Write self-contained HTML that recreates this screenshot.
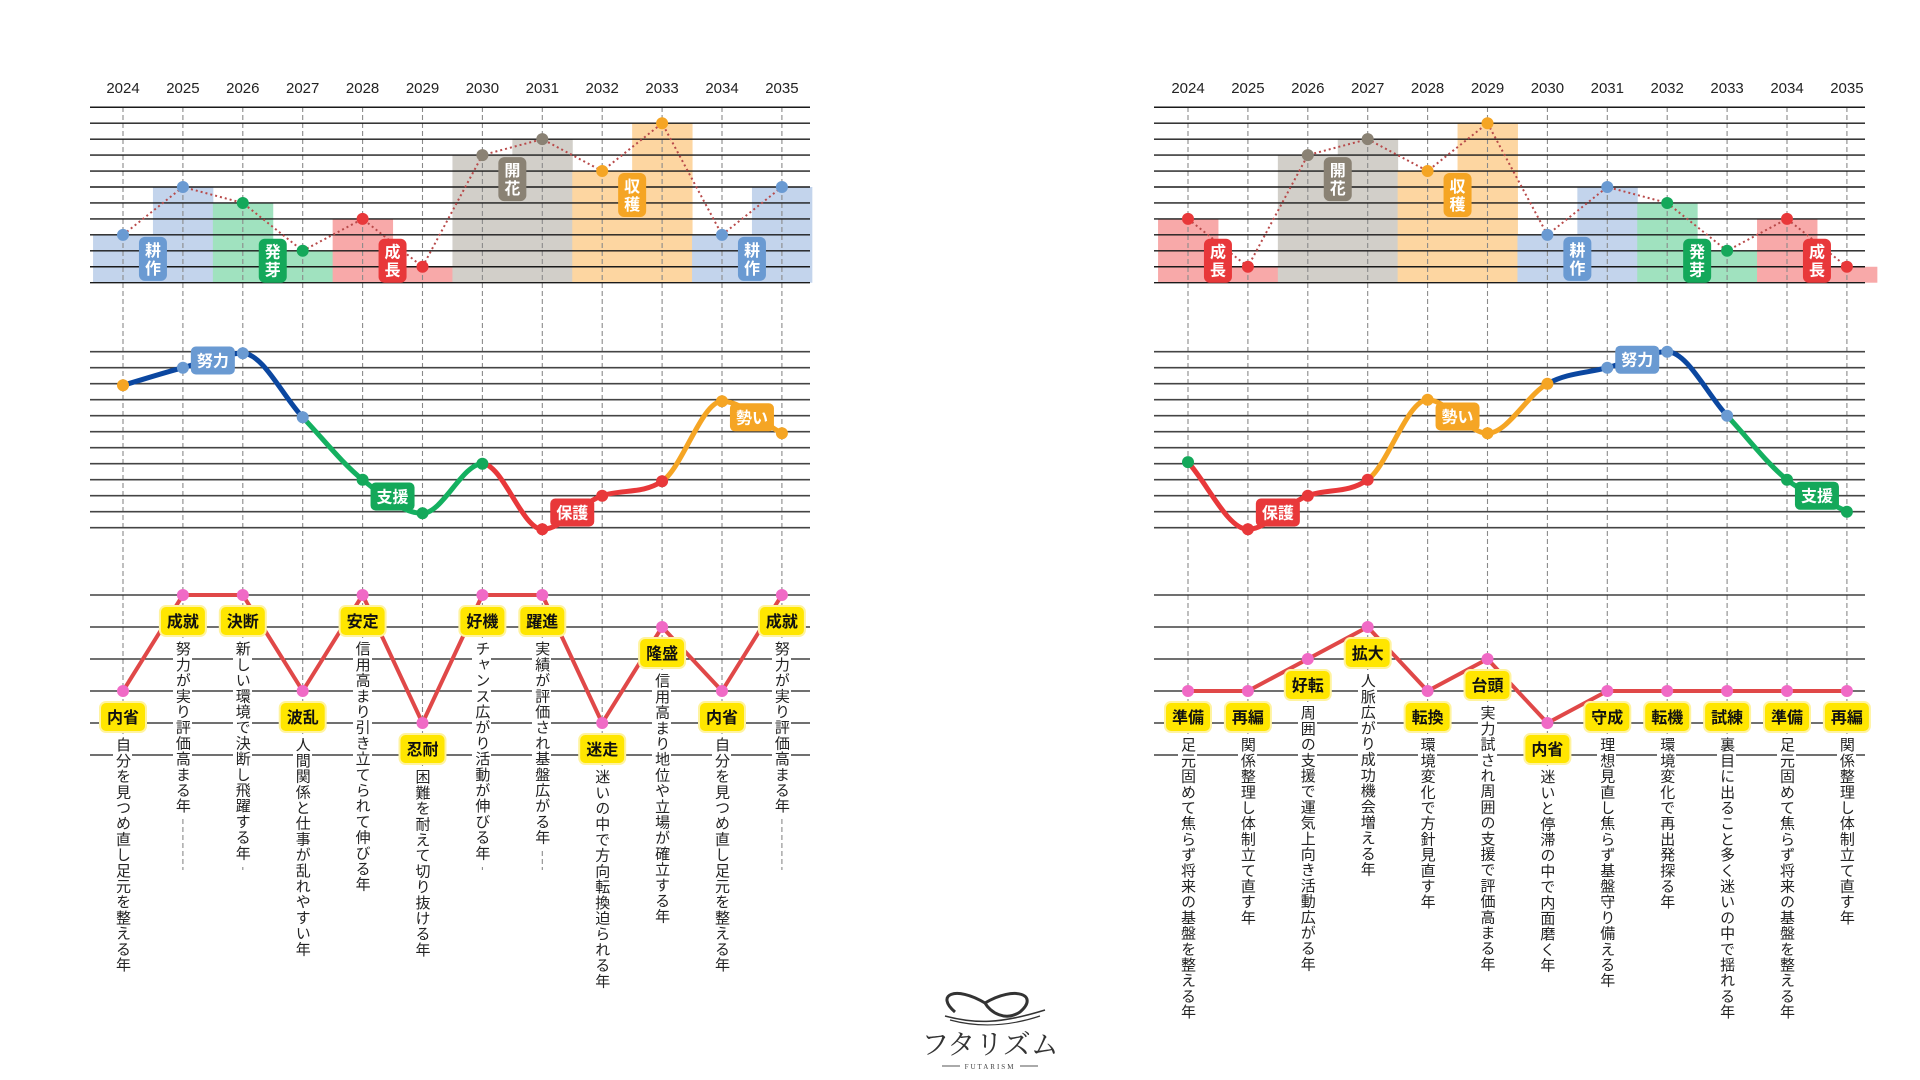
<!DOCTYPE html>
<html lang="ja">
<head>
<meta charset="utf-8">
<style>
  html,body{margin:0;padding:0;background:#fff;}
  #stage{position:relative;width:1920px;height:1080px;overflow:hidden;background:#fff;font-family:"Liberation Sans","Noto Sans CJK JP",sans-serif;}
  svg{position:absolute;left:0;top:0;}
  .vtext{position:absolute;writing-mode:vertical-rl;font-size:15px;line-height:17px;letter-spacing:0.7px;background:#fff;color:#222;padding:3px 1px;font-family:"Liberation Sans","Noto Sans CJK JP",sans-serif;}
</style>
</head>
<body>
<div id="stage">
<svg id="chart" width="1920" height="1080" viewBox="0 0 1920 1080">
  <g id="logo">
    <path d="M955 1012 C 935 995, 955 985, 985 1003 C 1015 985, 1040 995, 1020 1012 C 1005 1022, 990 1012, 985 1003" fill="none" stroke="#333" stroke-width="3"/>
    <path d="M945 1016 C 975 1024, 1000 1024, 1045 1010" fill="none" stroke="#333" stroke-width="1.5"/>
    <path d="M950 1020 C 980 1028, 1010 1026, 1040 1016" fill="none" stroke="#333" stroke-width="1.2"/>
    <text x="990" y="1054" text-anchor="middle" font-size="28" fill="#333" font-family="'Noto Serif CJK SC','Liberation Serif',serif">フタリズム</text>
    <line x1="942" y1="1066" x2="960" y2="1066" stroke="#555" stroke-width="1"/>
    <line x1="1020" y1="1066" x2="1038" y2="1066" stroke="#555" stroke-width="1"/>
    <text x="990" y="1069" text-anchor="middle" font-size="7" letter-spacing="2" fill="#444" font-family="'Liberation Serif',serif">FUTARISM</text>
  </g>
</svg>
</div>
<script>
// ---------- data ----------
const years = ['2024','2025','2026','2027','2028','2029','2030','2031','2032','2033','2034','2035'];

const leftBarValues  = [3,6,5,2,4,1,8,9,7,10,3,6];
const leftBarPhases  = ['blue','blue','green','green','red','red','gray','gray','orange','orange','blue','blue'];
const rightBarValues = [4,1,8,9,7,10,3,6,5,2,4,1];
const rightBarPhases = ['red','red','gray','gray','orange','orange','blue','blue','green','green','red','red'];
const leftBarTags  = [['耕作',0],['発芽',2],['成長',4],['開花',6],['収穫',8],['耕作',10]];
const rightBarTags = [['成長',0],['開花',2],['収穫',4],['耕作',6],['発芽',8],['成長',10]];

const leftFlowValues  = [8.9,10,10.9,6.9,3,0.9,4,-0.1,2,2.9,7.9,5.9];
const leftFlowPhases  = ['orange','blue','blue','blue','green','green','green','red','red','red','orange','orange'];
const rightFlowValues = [4.1,-0.1,2,3,8,5.9,9,10,11,7,3,1];
const rightFlowPhases = ['green','red','red','red','orange','orange','orange','blue','blue','blue','green','green'];
const leftFlowLabels  = [['努力',1],['支援',4],['保護',7],['勢い',10]];
const rightFlowLabels = [['保護',1],['勢い',4],['努力',7],['支援',10]];

const leftFortune  = [2,5,5,2,5,1,5,5,1,4,2,5];
const rightFortune = [2,2,3,4,2,3,1,2,2,2,2,2];
const leftKeywords  = ['内省','成就','決断','波乱','安定','忍耐','好機','躍進','迷走','隆盛','内省','成就'];
const rightKeywords = ['準備','再編','好転','拡大','転換','台頭','内省','守成','転機','試練','準備','再編'];
const leftDescs = ['自分を見つめ直し足元を整える年','努力が実り評価高まる年','新しい環境で決断し飛躍する年','人間関係と仕事が乱れやすい年','信用高まり引き立てられて伸びる年','困難を耐えて切り抜ける年','チャンス広がり活動が伸びる年','実績が評価され基盤広がる年','迷いの中で方向転換迫られる年','信用高まり地位や立場が確立する年','自分を見つめ直し足元を整える年','努力が実り評価高まる年'];
const rightDescs = ['足元固めて焦らず将来の基盤を整える年','関係整理し体制立て直す年','周囲の支援で運気上向き活動広がる年','人脈広がり成功機会増える年','環境変化で方針見直す年','実力試され周囲の支援で評価高まる年','迷いと停滞の中で内面磨く年','理想見直し焦らず基盤守り備える年','環境変化で再出発探る年','裏目に出ること多く迷いの中で揺れる年','足元固めて焦らず将来の基盤を整える年','関係整理し体制立て直す年'];

// ---------- styling ----------
const barFill = {blue:'#c3d4ec',green:'#a0e2bf',red:'#f8a9a9',gray:'#d2cfc9',orange:'#fdd6a1'};
const tagFill = {blue:'#6a9ad2',green:'#14a85a',red:'#e8383a',gray:'#8a8274',orange:'#f5a524'};
const lineCol = {blue:'#0b47a0',green:'#14b060',red:'#e8383a',orange:'#f5a524'};
const dotCol  = {blue:'#6a9ad2',green:'#14a85a',red:'#e8383a',orange:'#f5a524'};

const NS = 'http://www.w3.org/2000/svg';
const svg = document.getElementById('chart');
const stage = document.getElementById('stage');
function mk(tag, attrs, parent){
  const e = document.createElementNS(NS, tag);
  for (const k in attrs) e.setAttribute(k, attrs[k]);
  (parent||svg).appendChild(e);
  return e;
}

// axes
const sides = {
  left:{x0:123, step:59.9, lx1:90, lx2:810},
  right:{x0:1188, step:59.9, lx1:1154, lx2:1865}
};
function colX(side,i){ return sides[side].x0 + sides[side].step*i; }
function topY(v){ return 282.7 - 15.95*v; }
function midY(v){ return 527.7 - 16*v; }
function botY(v){ return 755 - 32*v; }

function monoTangents(ys){
  const n=ys.length, d=[], m=new Array(n);
  for(let i=0;i<n-1;i++) d.push(ys[i+1]-ys[i]);
  m[0]=d[0]; m[n-1]=d[n-2];
  for(let i=1;i<n-1;i++){ m[i] = (d[i-1]*d[i]<=0) ? 0 : (d[i-1]+d[i])/2; }
  for(let i=0;i<n-1;i++){
    if(d[i]===0){m[i]=0;m[i+1]=0;continue;}
    const a=m[i]/d[i], b=m[i+1]/d[i], s=a*a+b*b;
    if(s>9){const t=3/Math.sqrt(s); m[i]=t*a*d[i]; m[i+1]=t*b*d[i];}
  }
  return m;
}

function drawSide(side, barValues, barPhases, barTags, flowValues, flowPhases, flowLabels, fortune, keywords, descs){
  const S = sides[side];
  const g = mk('g',{});
  
  

  years.forEach((y,i)=>{
    const t = mk('text',{x:colX(side,i), y:93, 'text-anchor':'middle', 'font-size':15, fill:'#222', 'font-family':"'Liberation Sans Narrow','Liberation Sans',sans-serif"}, g);
    t.textContent = y;
    
    
  });

  barValues.forEach((v,i)=>{
    const x = colX(side,i);
    const r = mk('rect',{x:x-S.step/2, y:topY(v), width:S.step+0.5, height:topY(0)-topY(v), fill:barFill[barPhases[i]]}, g);
    
    
  });

  years.forEach((y,i)=>{
    const l = mk('line',{x1:colX(side,i), y1:107, x2:colX(side,i), y2:870, stroke:'#8a8a8a', 'stroke-width':1.1, 'stroke-dasharray':'5 3'}, g);
    
    
  });

  for(let v=0; v<=11; v++){
    const l = mk('line',{x1:S.lx1, y1:topY(v), x2:S.lx2, y2:topY(v), stroke:'#1a1a1a', 'stroke-width':1.4}, g);
    
    
  }
  for(let v=0; v<=11; v++){
    const l = mk('line',{x1:S.lx1, y1:midY(v), x2:S.lx2, y2:midY(v), stroke:'#444', 'stroke-width':1.6}, g);
    
    
  }
  for(let v=0; v<=5; v++){
    const l = mk('line',{x1:S.lx1, y1:botY(v), x2:S.lx2, y2:botY(v), stroke:'#1a1a1a', 'stroke-width':1.3}, g);
    
    
  }

  const pts = barValues.map((v,i)=>colX(side,i)+','+topY(v)).join(' ');
  const pl = mk('polyline',{points:pts, fill:'none', stroke:'#b84a4a', 'stroke-width':2, 'stroke-dasharray':'2 3'}, g);
  
  
  barValues.forEach((v,i)=>{
    const c = mk('circle',{cx:colX(side,i), cy:topY(v), r:6, fill:tagFill[barPhases[i]]}, g);
    
    
  });

  barTags.forEach(([txt,i])=>{
    const x = (colX(side,i)+colX(side,i+1))/2;
    const mn = Math.min(barValues[i], barValues[i+1]);
    let top = Math.min(topY(mn)+2, topY(0)-44);
    const tg = mk('g',{}, g);
    
    
    mk('rect',{x:x-14, y:top, width:28, height:44, rx:6, fill:tagFill[barPhases[i]]}, tg);
    [...txt].forEach((ch,k)=>{
      const t = mk('text',{x:x, y:top+19+k*18, 'text-anchor':'middle', 'font-size':16, 'font-weight':'bold', fill:'#fff'}, tg);
      t.textContent = ch;
    });
  });

  const xs = flowValues.map((v,i)=>colX(side,i));
  const ys = flowValues.map(v=>midY(v));
  const m = monoTangents(ys);
  for(let i=0;i<xs.length-1;i++){
    const h = xs[i+1]-xs[i];
    const d = `M${xs[i]},${ys[i]} C${xs[i]+h/3},${ys[i]+m[i]/3} ${xs[i+1]-h/3},${ys[i+1]-m[i+1]/3} ${xs[i+1]},${ys[i+1]}`;
    const p = mk('path',{d:d, fill:'none', stroke:lineCol[flowPhases[i+1]], 'stroke-width':5, 'stroke-linecap':'round'}, g);
    
    
  }
  flowValues.forEach((v,i)=>{
    const c = mk('circle',{cx:colX(side,i), cy:midY(v), r:6, fill:dotCol[flowPhases[i]]}, g);
    
    
  });
  flowLabels.forEach(([txt,i])=>{
    const x = (colX(side,i)+colX(side,i+1))/2;
    const y = midY((flowValues[i]+flowValues[i+1])/2);
    const lg = mk('g',{}, g);
    
    
    const col = flowPhases[i];
    mk('rect',{x:x-22, y:y-14, width:44, height:28, rx:5, fill:tagFill[col]}, lg);
    const t = mk('text',{x:x, y:y+6, 'text-anchor':'middle', 'font-size':16, 'font-weight':'bold', fill:'#fff'}, lg);
    t.textContent = txt;
  });

  const fpts = fortune.map((v,i)=>colX(side,i)+','+botY(v)).join(' ');
  const fl = mk('polyline',{points:fpts, fill:'none', stroke:'#e04848', 'stroke-width':4, 'stroke-linejoin':'round'}, g);
  
  
  fortune.forEach((v,i)=>{
    const c = mk('circle',{cx:colX(side,i), cy:botY(v), r:6, fill:'#f06ac6'}, g);
    
    
  });
  fortune.forEach((v,i)=>{
    const x = colX(side,i), cy = botY(v)+26;
    const kg = mk('g',{}, g);
    
    
    mk('rect',{x:x-23, y:cy-15, width:46, height:30, rx:6, fill:'#ffe600', stroke:'#fff3a0', 'stroke-width':2}, kg);
    const t = mk('text',{x:x, y:cy+6, 'text-anchor':'middle', 'font-size':16, 'font-weight':'bold', fill:'#111'}, kg);
    t.textContent = keywords[i];
    const dv = document.createElement('div');
    dv.className = 'vtext';
    dv.textContent = descs[i];
    dv.style.left = (x-10)+'px';
    dv.style.top = (cy+17)+'px';
    
    
    stage.appendChild(dv);
  });
}

drawSide('left', leftBarValues, leftBarPhases, leftBarTags, leftFlowValues, leftFlowPhases, leftFlowLabels, leftFortune, leftKeywords, leftDescs);
drawSide('right', rightBarValues, rightBarPhases, rightBarTags, rightFlowValues, rightFlowPhases, rightFlowLabels, rightFortune, rightKeywords, rightDescs);
svg.appendChild(document.getElementById('logo'));
</script>
</body>
</html>
